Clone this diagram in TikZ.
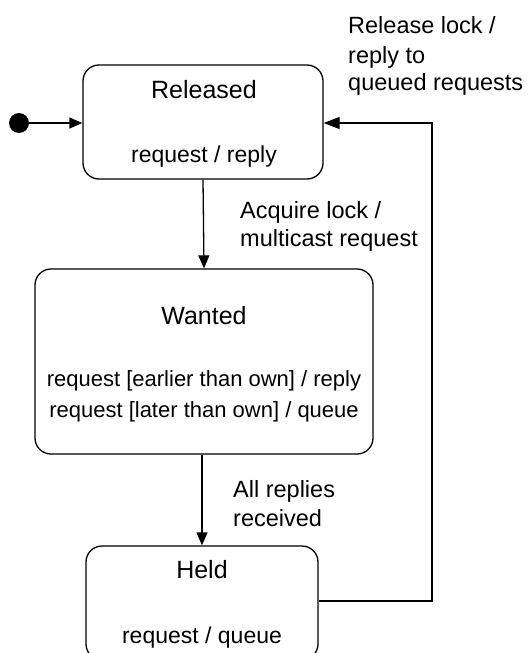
\documentclass[tikz,border=0pt]{standalone}
\usepackage{fontspec}
\setmainfont{Liberation Sans}
\usetikzlibrary{arrows.meta}
\tikzset{
  statebox/.style={draw, line width=1.3pt, rounded corners=16pt, inner sep=0pt},
  statename/.style={anchor=base, inner sep=0pt, font=\fontsize{25}{30}\selectfont},
  stateact/.style={anchor=base, inner sep=0pt, font=\fontsize{23}{28}\selectfont},
  trlabel/.style={anchor=base west, inner sep=0pt, align=left, font=\fontsize{23.5}{28.5}\selectfont},
  trans/.style={line width=1.3pt, -{Triangle[length=13pt,width=11pt]}},
}
\begin{document}
\begin{tikzpicture}[x=1pt,y=-1pt]
\useasboundingbox (0,0) rectangle (531,653);
\clip (0,0) rectangle (531,653);

% states
\node[statebox, minimum width=240pt, minimum height=114pt] (released) at (203,122) {};
\node[statebox, minimum width=338pt, minimum height=185pt] (wanted) at (204,361.5) {};
\node[statebox, minimum width=232pt, minimum height=114pt] (held) at (202,603) {};

% state texts
\node[statename] (releasedname) at (204,98) {Released};
\node[stateact] (releasedact) at (204,162) {request / reply};
\node[statename] (wantedname) at (204,324) {Wanted};
\node[stateact, font=\fontsize{22}{27}\selectfont] (wantedact1) at (204,386) {request [earlier than own] / reply};
\node[stateact, font=\fontsize{22}{27}\selectfont] (wantedact2) at (204,417) {request [later than own] / queue};
\node[statename] (heldname) at (202,578) {Held};
\node[stateact] (heldact) at (202,643) {request / queue};

% initial pseudo-state
\node[circle, fill=black, minimum size=20pt, inner sep=0pt] (init) at (19,123) {};

% transitions
\draw[trans] (init) -- (released.west |- init);
\draw[trans] (released.south) -- (wanted.north);
\draw[trans] (wanted.south -| held.north) -- (held.north);
\coordinate (corner1) at (432,601);
\coordinate (corner2) at (432,123);
\draw[line width=1.3pt, -{Triangle[length=16pt,width=12pt]}]
  (held.east |- corner1) -- (corner1) -- (corner2) -- (released.east |- corner2);

% transition labels
\node[trlabel] (acq1) at (240,218) {Acquire lock /};
\node[trlabel] (acq2) at (240,246) {multicast request};
\node[trlabel] (all1) at (233,497) {All replies};
\node[trlabel] (all2) at (233,526) {received};
\node[trlabel] (rel1) at (348,33) {Release lock /};
\node[trlabel] (rel2) at (348,63) {reply to};
\node[trlabel] (rel3) at (348,90) {queued requests};
\end{tikzpicture}
\end{document}
